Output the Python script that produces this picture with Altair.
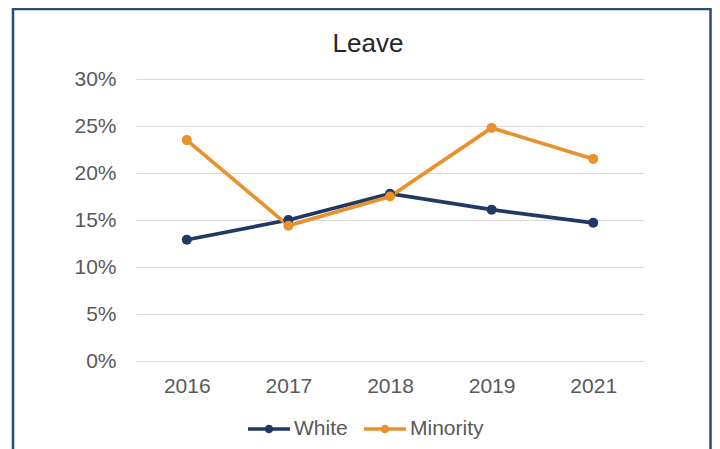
import altair as alt
import pandas as pd

years = ["2016", "2017", "2018", "2019", "2021"]
white = [0.129, 0.150, 0.178, 0.161, 0.147]
minority = [0.235, 0.144, 0.175, 0.248, 0.215]
series = ["White", "Minority"]
colors = ["#1F3864", "#E8912D"]
y_ticks = [0, 0.05, 0.10, 0.15, 0.20, 0.25, 0.30]

rows = []
for yr, w, m in zip(years, white, minority):
    rows.append({"year": yr, "group": "White", "value": w})
    rows.append({"year": yr, "group": "Minority", "value": m})
df = pd.DataFrame(rows)

FONT = "Liberation Sans"
legend_symbol = "M-1,0H1M-0.12,0A0.12,0.12,0,1,1,0.12,0A0.12,0.12,0,1,1,-0.12,0Z"

base = alt.Chart(df).encode(
    x=alt.X("year:N", sort=years, title=None,
            scale=alt.Scale(type="point", padding=0.5),
            axis=alt.Axis(labelAngle=0, domain=False, ticks=False, grid=False,
                          labelFontSize=21, labelColor="#595959", labelFont=FONT,
                          labelPadding=14)),
    y=alt.Y("value:Q", title=None,
            scale=alt.Scale(domain=[0, 0.30], nice=False),
            axis=alt.Axis(values=y_ticks, format=".0%", domain=False, ticks=False,
                          gridColor="#D9D9D9", gridWidth=1,
                          labelFontSize=21, labelColor="#595959", labelFont=FONT,
                          labelPadding=20)),
    color=alt.Color("group:N", sort=series,
                    scale=alt.Scale(domain=series, range=colors),
                    legend=alt.Legend(title=None, orient="none", direction="horizontal",
                                      legendX=110, legendY=327,
                                      symbolType=legend_symbol, symbolSize=1764,
                                      symbolStrokeWidth=3.5,
                                      labelFontSize=21, labelColor="#595959",
                                      labelFont=FONT, labelOffset=2,
                                      columnPadding=9, padding=0)),
)

lines = base.mark_line(strokeWidth=3.7)
points = base.mark_point(filled=True, size=100, opacity=1)

frame = alt.Chart(alt.Data(values=[{}])).mark_rect(
    fill=None, stroke="#2B4A7E", strokeWidth=2.5, clip=False
).encode(
    x=alt.value(-123), x2=alt.value(574.5),
    y=alt.value(-70), y2=alt.value(400),
)

chart = alt.layer(frame, lines, points).properties(
    width=508, height=282,
    background="white",
    title=alt.TitleParams("Leave", fontSize=26, font=FONT, fontWeight="normal",
                          color="#262626", anchor="middle", frame="group",
                          baseline="alphabetic", dx=-22, offset=-70),
    autosize=alt.AutoSizeParams(type="none"),
    padding={"left": 128, "top": 71, "right": 68, "bottom": 88},
).configure_view(strokeWidth=0, stroke="transparent")

chart.save("out.html", embed_options={"renderer": "svg", "actions": False})
